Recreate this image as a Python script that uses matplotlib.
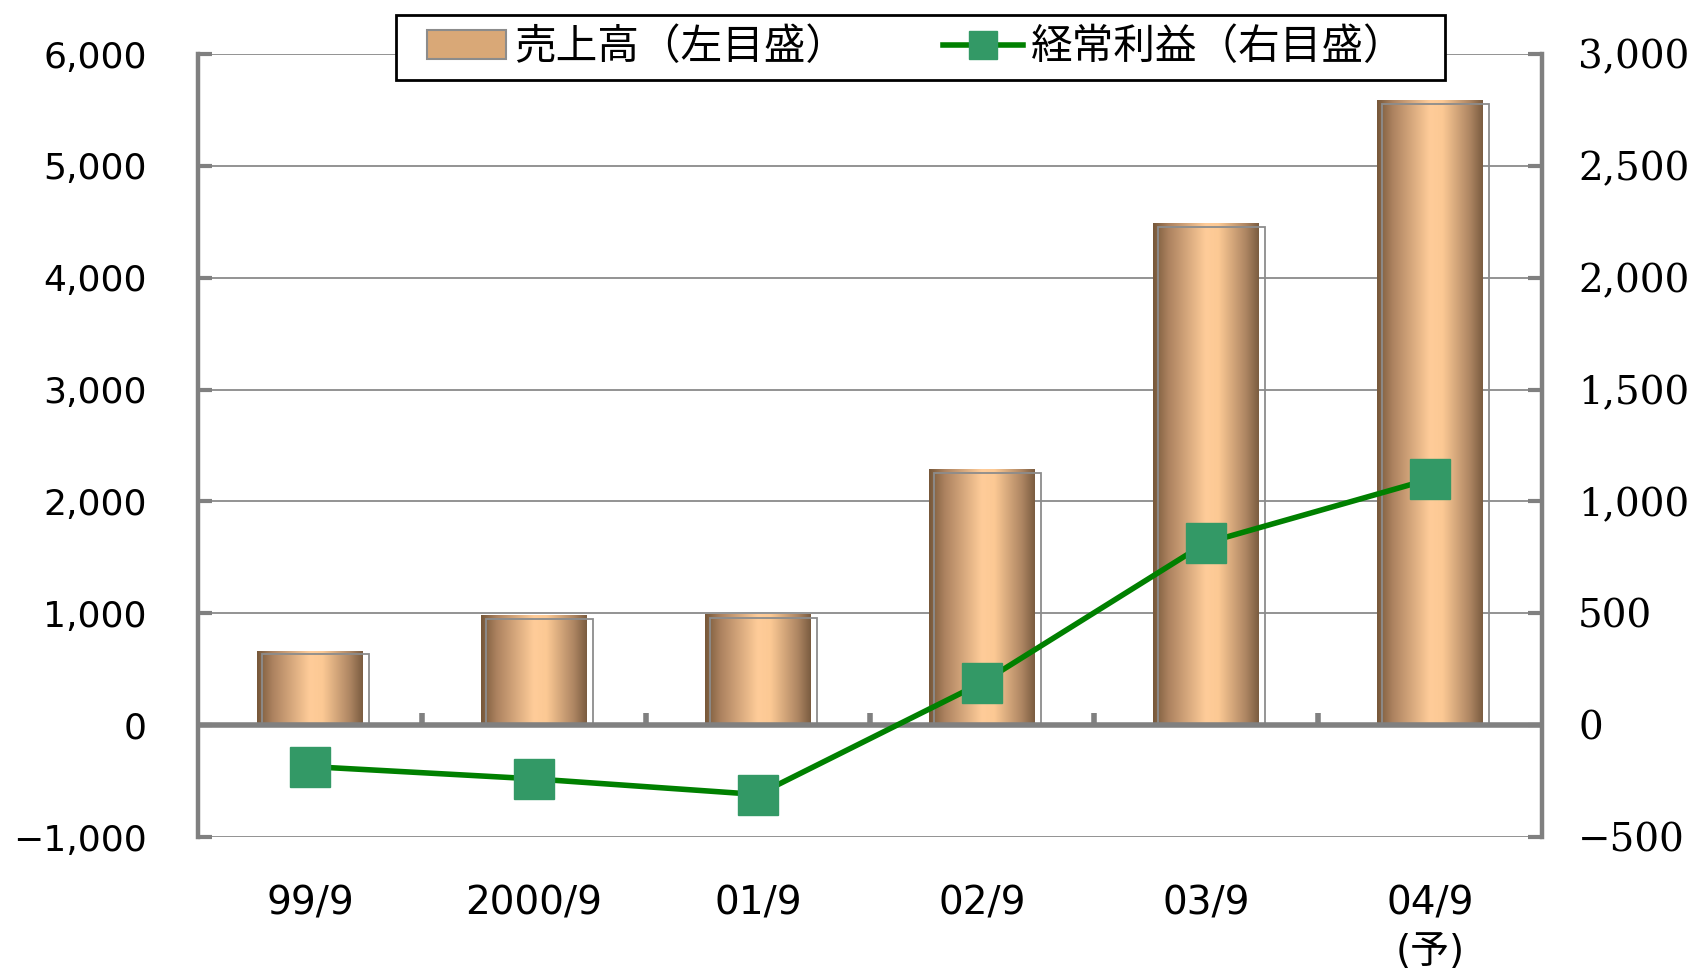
import numpy as np
import matplotlib
matplotlib.use('Agg')
import matplotlib.pyplot as plt
from matplotlib.colors import LinearSegmentedColormap
from matplotlib.patches import Patch, Rectangle
from matplotlib.lines import Line2D

plt.rcParams['font.family'] = ['Noto Sans CJK JP', 'DejaVu Sans']

# data
categories = ['99/9', '2000/9', '01/9', '02/9', '03/9', '04/9\n(予)']
sales = [660, 980, 990, 2280, 4480, 5580]          # 売上高 (left axis)
profit = [-185, -240, -310, 190, 815, 1100]        # 経常利益 (right axis)
left_ticks = [-1000, 0, 1000, 2000, 3000, 4000, 5000, 6000]
right_ticks = [-500, 0, 500, 1000, 1500, 2000, 2500, 3000]
legend_labels = ['売上高（左目盛）', '経常利益（右目盛）']

GRAY = '#808080'
cyl = LinearSegmentedColormap.from_list(
    'cyl', [(0, '#765739'), (0.15, '#ad8360'), (0.5, '#ffcc99'),
            (0.62, '#fcc994'), (0.88, '#ad8562'), (1, '#7a5c40')])
grad = np.linspace(0, 1, 256).reshape(1, -1)

fig = plt.figure(figsize=(17, 9.68), dpi=100)
ax = fig.add_axes([0.1165, 0.1353, 0.7906, 0.8089])
x = np.arange(len(categories))

bars = ax.bar(x, sales, width=0.47, color='none', zorder=2)
for b in bars:
    x0, w, h = b.get_x(), b.get_width(), b.get_height()
    ax.imshow(grad, cmap=cyl, extent=(x0, x0 + w, 0, h), aspect='auto',
              zorder=2, interpolation='bicubic')
    # grey outline of the 3d depth
    ax.add_patch(Rectangle((x0 + 0.02, 0), w + 0.008, h - 28, fill=False,
                           edgecolor='#8c8c8c', lw=1.3, zorder=2.5))

ax.set_xlim(-0.5, len(categories) - 0.5)
ax.set_ylim(-1000, 6000)
ax.axhline(0, color=GRAY, lw=4, zorder=3)
ax.plot(x[:-1] + 0.5, np.zeros(len(x) - 1), ls='none', marker=2, ms=9,
        mew=4, color=GRAY, zorder=3)

ax.yaxis.grid(True, color='#8a8a8a', lw=1.3)
ax.set_axisbelow(True)
for s in ['top', 'bottom', 'right']:
    ax.spines[s].set_visible(False)
ax.spines['left'].set_color(GRAY)
ax.spines['left'].set_linewidth(3.2)

ax.set_yticks(left_ticks, labels=[f'{v:,}'.replace('-', '−') for v in left_ticks])
ax.tick_params(axis='y', direction='in', length=10, width=3, color=GRAY,
               pad=37, labelsize=26)
for t in ax.get_yticklabels():
    t.set_family('DejaVu Sans')
ax.set_xticks(x, labels=categories)
ax.tick_params(axis='x', length=0, pad=34, labelsize=28)
for t in ax.get_xticklabels():
    t.set_family(['DejaVu Sans', 'Noto Sans CJK JP'])
    t.set_linespacing(1.35)
    t.set_verticalalignment('top')

ax2 = ax.twinx()
ax2.plot(x, profit, color='#008000', lw=4, marker='s', ms=29,
         mfc='#339966', mec='#339966', zorder=5)
ax2.set_ylim(-500, 3000)
for s in ['top', 'bottom', 'left']:
    ax2.spines[s].set_visible(False)
ax2.spines['right'].set_color(GRAY)
ax2.spines['right'].set_linewidth(3.2)
ax2.set_yticks(right_ticks, labels=[f'{v:,}'.replace('-', '−') for v in right_ticks],
               fontfamily='DejaVu Serif', fontsize=28)
ax2.tick_params(axis='y', direction='in', length=10, width=3, color=GRAY, pad=26)

# legend box drawn separately so its margins match the original
fig.patches.append(Rectangle((0.2328, 0.9174), 0.6172, 0.0671, transform=fig.transFigure,
                             facecolor='white', edgecolor='black', lw=2, zorder=10))
handles = [Patch(facecolor='#d9a877', edgecolor='#8c8c8c', lw=1.5),
           Line2D([], [], color='#008000', lw=4, marker='s', ms=20,
                  mfc='#339966', mec='#339966')]
leg = fig.legend(handles, legend_labels, loc='center', ncol=2,
                 bbox_to_anchor=(0.539, 0.9507), frameon=False, fontsize=30,
                 handlelength=1.9, handletextpad=0.2, borderpad=0,
                 columnspacing=2.3, borderaxespad=0)
leg.set_zorder(11)

fig.savefig('out.png', dpi=100)
